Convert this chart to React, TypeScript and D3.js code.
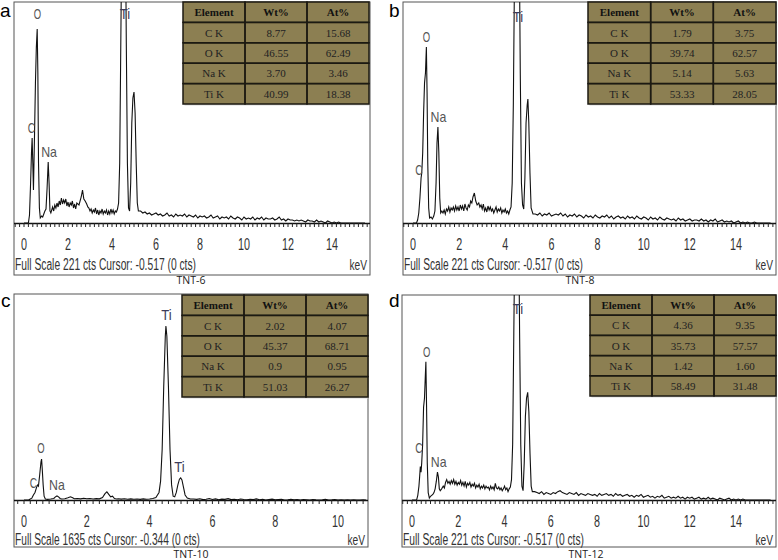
import React from 'react';
import * as d3 from 'd3';

// ---------- table data ----------
const tableHeaders = ['Element', 'Wt%', 'At%'];
const elementNames = ['C K', 'O K', 'Na K', 'Ti K'];
const wtA = ['8.77', '46.55', '3.70', '40.99'];
const atA = ['15.68', '62.49', '3.46', '18.38'];
const wtB = ['1.79', '39.74', '5.14', '53.33'];
const atB = ['3.75', '62.57', '5.63', '28.05'];
const wtC = ['2.02', '45.37', '0.9', '51.03'];
const atC = ['4.07', '68.71', '0.95', '26.27'];
const wtD = ['4.36', '35.73', '1.42', '58.49'];
const atD = ['9.35', '57.57', '1.60', '31.48'];

// ---------- axis tick labels ----------
const tickLabels15 = [0, 2, 4, 6, 8, 10, 12, 14];
const tickLabels10 = [0, 2, 4, 6, 8, 10];

// ---------- spectra (keV, counts) ----------
const aKeV = [0, 0.2, 0.25, 0.3, 0.34, 0.37, 0.4, 0.43, 0.48, 0.52, 0.56, 0.6, 0.63, 0.66, 0.7, 0.74, 0.8, 0.85, 0.9, 0.95, 1.0, 1.05, 1.1, 1.14, 1.18, 1.22, 1.3, 1.35, 1.4, 1.45, 1.5, 1.55, 1.6, 1.65, 1.7, 1.75, 1.8, 1.85, 1.9, 1.95, 2.0, 2.05, 2.1, 2.15, 2.2, 2.25, 2.3, 2.35, 2.4, 2.5, 2.6, 2.66, 2.72, 2.78, 2.85, 2.9, 2.95, 3.0, 3.05, 3.1, 3.15, 3.2, 3.25, 3.3, 3.35, 3.4, 3.45, 3.5, 3.55, 3.6, 3.65, 3.7, 3.75, 3.8, 3.85, 3.9, 3.95, 4.0, 4.05, 4.1, 4.15, 4.2, 4.25, 4.3, 4.35, 4.4, 4.45, 4.5, 4.55, 4.6, 4.65, 4.7, 4.75, 4.8, 4.85, 4.9, 4.95, 5.0, 5.05, 5.1, 5.15, 5.2];
const aCounts = [0, 0, 8, 40, 70, 85, 60, 33, 90, 140, 175, 194, 150, 60, 15, 5, 7, 6, 9, 12, 14, 35, 61, 40, 12, 10, 16, 12, 18, 15, 20, 16, 22, 18, 25, 19, 23, 20, 24, 17, 21, 16, 20, 18, 22, 15, 19, 14, 20, 18, 26, 33, 24, 22, 19, 16, 15, 12, 14, 10, 13, 11, 15, 9, 13, 8, 12, 10, 14, 9, 12, 10, 13, 8, 12, 9, 14, 10, 13, 9, 12, 11, 14, 20, 60, 180, 300, 380, 400, 330, 180, 60, 15, 12, 40, 100, 125, 131, 110, 60, 20, 12];
const aTail = [12, 10, 11, 9, 10, 8, 9, 10, 8, 9, 7, 8, 10, 7, 8, 6, 9, 7, 8, 7, 9, 6, 8, 7, 6, 8, 5, 7, 6, 7, 5, 6, 8, 5, 6, 7, 4, 6, 5, 6, 4, 7, 5, 4, 6, 5, 3, 6, 4, 5, 4, 6, 3, 5, 4, 6, 3, 5, 4, 4, 5, 3, 4, 6, 3, 4, 2, 4, 3, 3, 2, 3, 2, 3, 2, 1, 3, 2, 2, 1, 3, 1, 2, 1, 0, 2, 1, 0, 1, 0, 1, 0, 0, 0, 0, 0, 0, 0, 0, 0, 0, 0, 0];

const bKeV = [0, 0.15, 0.2, 0.25, 0.3, 0.35, 0.38, 0.42, 0.46, 0.5, 0.54, 0.58, 0.61, 0.64, 0.68, 0.72, 0.78, 0.84, 0.9, 0.95, 1.0, 1.04, 1.08, 1.12, 1.16, 1.2, 1.25, 1.3, 1.35, 1.4, 1.45, 1.5, 1.55, 1.6, 1.65, 1.7, 1.75, 1.8, 1.85, 1.9, 1.95, 2.0, 2.05, 2.1, 2.15, 2.2, 2.25, 2.3, 2.35, 2.4, 2.45, 2.5, 2.55, 2.6, 2.66, 2.72, 2.78, 2.85, 2.9, 2.95, 3.0, 3.05, 3.1, 3.15, 3.2, 3.25, 3.3, 3.35, 3.4, 3.45, 3.5, 3.55, 3.6, 3.65, 3.7, 3.75, 3.8, 3.85, 3.9, 3.95, 4.0, 4.05, 4.1, 4.15, 4.2, 4.25, 4.3, 4.35, 4.4, 4.45, 4.5, 4.55, 4.6, 4.65, 4.7, 4.75, 4.8, 4.85, 4.9, 4.95, 4.98, 5.02, 5.07, 5.12, 5.2];
const bCounts = [0, 0, 3, 10, 25, 45, 50, 70, 110, 140, 150, 176, 130, 60, 15, 5, 6, 4, 7, 12, 40, 80, 96, 70, 25, 10, 12, 10, 13, 9, 14, 12, 16, 11, 15, 13, 16, 12, 17, 13, 16, 12, 18, 14, 17, 12, 19, 15, 13, 18, 16, 22, 20, 26, 30, 22, 18, 20, 16, 18, 14, 19, 12, 15, 11, 17, 13, 16, 12, 14, 10, 13, 16, 11, 14, 12, 15, 10, 13, 11, 14, 10, 12, 9, 13, 16, 40, 120, 250, 360, 420, 400, 300, 150, 40, 18, 14, 45, 100, 118, 124, 100, 50, 15, 9];
const bTail = [9, 8, 10, 7, 9, 8, 10, 7, 8, 9, 8, 10, 7, 9, 6, 8, 7, 9, 6, 8, 7, 5, 8, 6, 7, 5, 8, 6, 5, 7, 6, 8, 5, 7, 4, 6, 7, 5, 6, 4, 7, 5, 6, 4, 7, 5, 4, 6, 5, 3, 6, 4, 5, 3, 6, 4, 3, 5, 4, 3, 4, 2, 5, 3, 4, 2, 3, 4, 2, 3, 3, 2, 4, 2, 3, 1, 3, 2, 4, 1, 2, 3, 1, 2, 1, 2, 0, 1, 2, 0, 1, 0, 1, 0, 0, 1, 0, 0, 0, 0, 0, 0, 0];

const cKeV = [0, 0.15, 0.2, 0.25, 0.3, 0.35, 0.4, 0.43, 0.46, 0.5, 0.54, 0.56, 0.58, 0.61, 0.64, 0.68, 0.75, 0.85, 0.95, 1.0, 1.05, 1.1, 1.15, 1.2, 1.3, 1.4, 1.48, 1.55, 1.6, 1.7, 1.8, 1.9, 2.0, 2.1, 2.2, 2.3, 2.4, 2.5, 2.58, 2.64, 2.7, 2.76, 2.82, 2.88, 2.95, 3.0, 3.1, 3.2, 3.3, 3.4, 3.5, 3.6, 3.7, 3.8, 3.9, 4.0, 4.1, 4.2, 4.3, 4.35, 4.4, 4.45, 4.5, 4.52, 4.55, 4.6, 4.65, 4.7, 4.75, 4.8, 4.85, 4.9, 4.95, 4.99, 5.03, 5.08, 5.13, 5.2, 5.3];
const cCounts = [0, 0, 8, 15, 40, 60, 100, 119, 110, 200, 300, 325, 250, 120, 30, 8, 5, 8, 12, 25, 32, 25, 12, 8, 10, 18, 26, 18, 10, 12, 9, 14, 10, 12, 8, 11, 9, 20, 50, 64, 45, 25, 30, 12, 8, 10, 7, 10, 6, 9, 6, 8, 5, 9, 6, 8, 12, 20, 60, 150, 400, 900, 1300, 1381, 1300, 900, 400, 120, 30, 25, 60, 120, 165, 175, 160, 100, 40, 15, 8];
const cTail = [8, 5, 10, 3, 6, 12, 4, 9, 2, 7, 5, 11, 3, 6, 2, 8, 4, 1, 6, 3, 9, 2, 5, 0, 4, 7, 1, 3, 5, 0, 2, 6, 1, 3, 0, 4, 2, 0, 3, 1, 0, 2, 5, 0, 1, 3, 0, 2, 0, 1, 0, 2, 0, 0, 1, 0];

const dKeV = [0, 0.2, 0.25, 0.3, 0.33, 0.36, 0.39, 0.42, 0.46, 0.5, 0.54, 0.57, 0.6, 0.63, 0.66, 0.7, 0.75, 0.8, 0.85, 0.9, 0.95, 1.0, 1.05, 1.1, 1.14, 1.18, 1.22, 1.28, 1.35, 1.4, 1.45, 1.5, 1.55, 1.6, 1.65, 1.7, 1.75, 1.8, 1.85, 1.9, 1.95, 2.0, 2.05, 2.1, 2.15, 2.2, 2.25, 2.3, 2.35, 2.4, 2.45, 2.5, 2.55, 2.6, 2.65, 2.7, 2.75, 2.8, 2.85, 2.9, 2.95, 3.0, 3.05, 3.1, 3.15, 3.2, 3.25, 3.3, 3.35, 3.4, 3.45, 3.5, 3.55, 3.6, 3.65, 3.7, 3.75, 3.8, 3.85, 3.9, 3.95, 4.0, 4.05, 4.1, 4.15, 4.2, 4.25, 4.3, 4.35, 4.4, 4.45, 4.5, 4.55, 4.6, 4.65, 4.7, 4.75, 4.8, 4.85, 4.9, 4.95, 5.0, 5.05, 5.1, 5.15, 5.2];
const dCounts = [0, 0, 5, 15, 25, 36, 30, 40, 60, 100, 110, 130, 149, 100, 40, 8, 2, 4, 5, 6, 8, 12, 20, 30, 25, 12, 10, 12, 15, 13, 19, 22, 18, 20, 17, 21, 18, 22, 17, 20, 16, 19, 17, 21, 16, 19, 15, 20, 14, 18, 16, 19, 14, 17, 15, 18, 13, 16, 14, 17, 12, 15, 13, 16, 12, 15, 13, 14, 11, 15, 12, 14, 11, 18, 13, 12, 14, 11, 13, 10, 12, 15, 11, 13, 9, 12, 14, 22, 60, 180, 300, 380, 400, 330, 180, 60, 15, 10, 40, 90, 110, 116, 95, 50, 15, 9];
const dTail = [9, 8, 7, 9, 6, 8, 7, 6, 8, 7, 9, 10, 8, 7, 6, 8, 7, 6, 8, 5, 7, 6, 5, 7, 6, 5, 6, 4, 7, 5, 6, 7, 5, 6, 4, 7, 5, 6, 4, 5, 6, 4, 5, 3, 5, 4, 6, 3, 4, 5, 3, 4, 2, 4, 3, 5, 2, 3, 4, 2, 3, 2, 4, 2, 3, 1, 3, 2, 3, 1, 2, 3, 1, 2, 1, 3, 1, 2, 1, 0, 2, 1, 0, 1, 2, 0, 1, 0, 1, 0, 1, 0, 0, 0, 0, 0, 0, 0, 0, 0, 0, 0, 0];

// ---------- peak labels (text, keV, counts) ----------
const aLabelText = ['O', 'C', 'Na', 'Ti'];
const aLabelKeV = [0.61, 0.34, 1.14, 4.59];
const aLabelCounts = [204, 90, 66, 204];
const bLabelText = ['O', 'Na', 'C', 'Ti'];
const bLabelKeV = [0.585, 1.1, 0.26, 4.55];
const bLabelCounts = [181, 101, 48, 201];
const cLabelText = ['C', 'O', 'Na', 'Ti', 'Ti'];
const cLabelKeV = [0.3, 0.54, 1.05, 4.54, 4.95];
const cLabelCounts = [95, 373, 79, 1429, 222];
const dLabelText = ['O', 'C', 'Na', 'Ti'];
const dLabelKeV = [0.63, 0.3, 1.15, 4.58];
const dLabelCounts = [154, 51, 36, 201];

type PanelDef = {
  letter: string; letterX: number; letterY: number;
  frame: { x0: number; x1: number; y0: number; y1: number };
  zeroPx: number; pxPerKeV: number; base: number; fullScale: number;
  keV: number[]; counts: number[]; tailStart: number; tail: number[];
  tickLabels: number[];
  info: string; infoLen: number; infoDy: number;
  caption: string; captionX: number; captionY: number;
  table: { x0: number; x1: number; y0: number; y1: number }; wt: string[]; at: string[];
  labelText: string[]; labelKeV: number[]; labelCounts: number[];
};

const panels: PanelDef[] = [
  {
    letter: 'a', letterX: 0, letterY: 17,
    frame: { x0: 14, x1: 370, y0: 2, y1: 275 },
    zeroPx: 24, pxPerKeV: 22, base: 223, fullScale: 221,
    keV: aKeV, counts: aCounts, tailStart: 5.3, tail: aTail, tickLabels: tickLabels15,
    info: 'Full Scale 221 cts Cursor: -0.517  (0 cts)', infoLen: 181, infoDy: 47,
    caption: 'TNT-6', captionX: 191, captionY: 284,
    table: { x0: 183, x1: 369, y0: 2, y1: 104 }, wt: wtA, at: atA,
    labelText: aLabelText, labelKeV: aLabelKeV, labelCounts: aLabelCounts,
  },
  {
    letter: 'b', letterX: 389, letterY: 17,
    frame: { x0: 403, x1: 776, y0: 2, y1: 275 },
    zeroPx: 413, pxPerKeV: 23.07, base: 223, fullScale: 221,
    keV: bKeV, counts: bCounts, tailStart: 5.3, tail: bTail, tickLabels: tickLabels15,
    info: 'Full Scale 221 cts Cursor: -0.517  (0 cts)', infoLen: 179, infoDy: 47,
    caption: 'TNT-8', captionX: 580, captionY: 284,
    table: { x0: 588, x1: 776, y0: 2, y1: 104 }, wt: wtB, at: atB,
    labelText: bLabelText, labelKeV: bLabelKeV, labelCounts: bLabelCounts,
  },
  {
    letter: 'c', letterX: 1, letterY: 307,
    frame: { x0: 14, x1: 368, y0: 294, y1: 547 },
    zeroPx: 24, pxPerKeV: 31.4, base: 500, fullScale: 1635,
    keV: cKeV, counts: cCounts, tailStart: 5.4, tail: cTail, tickLabels: tickLabels10,
    info: 'Full Scale 1635 cts Cursor: -0.344  (0 cts)', infoLen: 185, infoDy: 45,
    caption: 'TNT-10', captionX: 191, captionY: 558,
    table: { x0: 182, x1: 368, y0: 295, y1: 397 }, wt: wtC, at: atC,
    labelText: cLabelText, labelKeV: cLabelKeV, labelCounts: cLabelCounts,
  },
  {
    letter: 'd', letterX: 389, letterY: 307,
    frame: { x0: 402, x1: 776, y0: 295, y1: 547 },
    zeroPx: 412, pxPerKeV: 23.14, base: 500, fullScale: 221,
    keV: dKeV, counts: dCounts, tailStart: 5.3, tail: dTail, tickLabels: tickLabels15,
    info: 'Full Scale 221 cts Cursor: -0.517  (0 cts)', infoLen: 181, infoDy: 45,
    caption: 'TNT-12', captionX: 586, captionY: 558,
    table: { x0: 590, x1: 776, y0: 295, y1: 396 }, wt: wtD, at: atD,
    labelText: dLabelText, labelKeV: dLabelKeV, labelCounts: dLabelCounts,
  },
];

const sans = "'Liberation Sans', Arial, sans-serif";
const serif = "'Liberation Serif', 'DejaVu Serif', serif";

// condensed look: narrow glyph widths per character
const narrowWidth = (s: string, w: number) =>
  s.split('').reduce((acc, ch) => acc + (ch === 'N' ? w * 1.25 : ch === 'i' ? w * 0.45 : ch === 'a' ? w : w * 1.05), 0);

function Table({ p }: { p: PanelDef }) {
  const { x0, x1, y0, y1 } = p.table;
  const xs = d3.scaleLinear().domain([0, 3]).range([x0, x1]);
  const ys = d3.scaleLinear().domain([0, 5]).range([y0, y1]);
  const rows: string[][] = [tableHeaders, ...elementNames.map((e, i) => [e, p.wt[i], p.at[i]])];
  return (
    <g>
      <rect x={x0 + 1.5} y={y0 + 1.5} width={x1 - x0 - 1.5} height={y1 - y0} fill="#d8d8d8" />
      <rect x={x0} y={y0} width={x1 - x0} height={y1 - y0} fill="#8c7f52" />
      {rows.map((r, ri) =>
        r.map((t, ci) => (
          <g key={`${ri}-${ci}`}>
            <rect x={xs(ci)} y={ys(ri)} width={xs(ci + 1) - xs(ci)} height={ys(ri + 1) - ys(ri)} fill="none" stroke="#1c1a12" strokeWidth={1.5} />
            <text x={(xs(ci) + xs(ci + 1)) / 2} y={(ys(ri) + ys(ri + 1)) / 2 + 4} textAnchor="middle"
              fontFamily={serif} fontSize={11} fontWeight={ri === 0 ? 'bold' : 'normal'} fill={ri === 0 ? '#111' : '#222'}>{t}</text>
          </g>
        ))
      )}
    </g>
  );
}

function Panel({ p, idx }: { p: PanelDef; idx: number }) {
  const x = d3.scaleLinear().domain([0, 1]).range([p.zeroPx, p.zeroPx + p.pxPerKeV]);
  const y = d3.scaleLinear().domain([0, p.fullScale]).range([p.base, p.frame.y0]);
  const pts: [number, number][] = [
    ...p.keV.map((k, i) => [k, p.counts[i]] as [number, number]),
    ...p.tail.map((c, i) => [p.tailStart + i * 0.1, c] as [number, number]),
  ].filter((d) => x(d[0]) <= p.frame.x1 - 1);
  const line = d3.line<[number, number]>().x((d) => x(d[0])).y((d) => y(d[1]));
  const tMin = x.invert(p.frame.x0);
  const tMax = x.invert(p.frame.x1);
  const ticks = d3.range(Math.ceil(tMin / 0.2 - 1e-6), Math.floor(tMax / 0.2 + 1e-6) + 1).map((i) => i * 0.2);
  const clipId = `clip-${idx}`;
  const f = p.frame;
  return (
    <g>
      <defs>
        <clipPath id={clipId}>
          <rect x={f.x0} y={f.y0} width={f.x1 - f.x0} height={p.base - f.y0 + 1} />
        </clipPath>
      </defs>
      <rect x={f.x0} y={f.y0} width={f.x1 - f.x0} height={f.y1 - f.y0} fill="#fff" stroke="#555" strokeWidth={1} />
      <path d={line(pts) || ''} fill="none" stroke="#111" strokeWidth={1.1} clipPath={`url(#${clipId})`} />
      <line x1={f.x0} x2={f.x1} y1={p.base + 0.5} y2={p.base + 0.5} stroke="#111" strokeWidth={1.5} />
      {ticks.map((t, i) => (
        <line key={i} x1={x(t)} x2={x(t)} y1={p.base} y2={p.base + 4} stroke="#222" strokeWidth={1} />
      ))}
      {p.tickLabels.map((t) => (
        <text key={t} x={x(t)} y={p.base + 27} textAnchor="middle" fontFamily={sans} fontSize={17} fill="#333"
          textLength={String(t).length * 6} lengthAdjust="spacingAndGlyphs">{t}</text>
      ))}
      <text x={f.x0 + 1} y={p.base + p.infoDy} fontFamily={sans} fontSize={16} fill="#333"
        textLength={p.infoLen} lengthAdjust="spacingAndGlyphs">{p.info}</text>
      <text transform={`translate(${f.x1 - 3},${p.base + p.infoDy}) scale(0.68,1)`} textAnchor="end"
        fontFamily={sans} fontSize={15} fill="#333">keV</text>
      {p.labelText.map((t, i) => (
        <text key={i} x={x(p.labelKeV[i]) - narrowWidth(t, 7) / 2} y={y(p.labelCounts[i])} fontFamily={sans}
          fontSize={15} fill={t === 'Ti' ? '#3c3c5a' : '#555'} textLength={narrowWidth(t, 7)} lengthAdjust="spacingAndGlyphs">{t}</text>
      ))}
      <Table p={p} />
      <text x={p.letterX} y={p.letterY} fontFamily={sans} fontSize={19} fill="#000">{p.letter}</text>
      <text x={p.captionX} y={p.captionY} textAnchor="middle" fontFamily="'Open Sans', sans-serif" fontSize={10.5} fill="#222">{p.caption}</text>
    </g>
  );
}

export default function App() {
  return (
    <svg width={778} height={560} viewBox="0 0 778 560" style={{ position: 'absolute', left: 0, top: 0, background: '#fff' }}>
      <rect x={0} y={0} width={778} height={560} fill="#fff" />
      {panels.map((p, i) => (
        <Panel key={p.letter} p={p} idx={i} />
      ))}
    </svg>
  );
}
